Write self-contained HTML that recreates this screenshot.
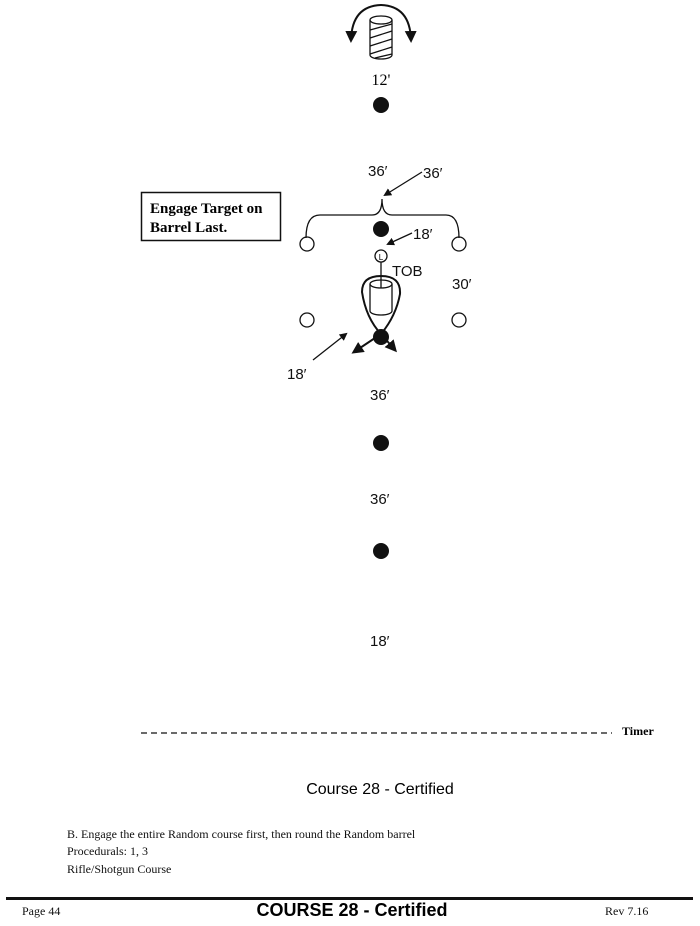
<!DOCTYPE html>
<html><head><style>
body{margin:0;background:#fff;width:700px;height:926px;overflow:hidden}
svg{display:block}
.s{font-family:"Liberation Sans",sans-serif}
.r{font-family:"Liberation Serif",serif}
</style></head><body>
<svg width="700" height="926" viewBox="0 0 700 926" xmlns="http://www.w3.org/2000/svg">
<defs>
<marker id="a" markerWidth="8" markerHeight="8" refX="6" refY="4" orient="auto" markerUnits="userSpaceOnUse"><path d="M0,0 L8,4 L0,8 Z" fill="#111"/></marker>
<marker id="b" markerWidth="12" markerHeight="12" refX="9" refY="6" orient="auto-start-reverse" markerUnits="userSpaceOnUse"><path d="M0,0 L12,6 L0,12 Z" fill="#111"/></marker>
</defs>
<g stroke="#111" stroke-width="1.3" fill="none">
<path d="M370,20 L370,55 A11,4 0 0 0 392,55 L392,20"/>
<ellipse cx="381" cy="20" rx="11" ry="4"/>
<path d="M370,30 L392,24 M370,38 L392,31 M370,46 L392,39 M370,54 L392,47 M375,58 L392,54"/>
<path d="M351,40 Q352,6 381,5 Q410,6 411,40" stroke-width="2" marker-start="url(#b)" marker-end="url(#b)"/>
</g>
<text x="381" y="85" class="r" font-size="16" text-anchor="middle">12'</text>
<circle cx="381" cy="105" r="8" fill="#111"/>
<g class="s" font-size="15" fill="#111">
<text x="368" y="176">36′</text>
<text x="423" y="178">36′</text>
<text x="413" y="239">18′</text>
<text x="392" y="276">TOB</text>
<text x="452" y="289">30′</text>
<text x="287" y="379">18′</text>
<text x="370" y="400">36′</text>
<text x="370" y="504">36′</text>
<text x="370" y="646">18′</text>
</g>
<g stroke="#111" stroke-width="1.3" fill="none">
<line x1="422" y1="172" x2="385" y2="195" marker-end="url(#a)"/>
<path d="M306,238 Q306,215 320,215 L372,215 Q382,215 382,199 Q382,215 392,215 L446,215 Q459,215 459,238"/>
<line x1="412" y1="233" x2="388" y2="244" marker-end="url(#a)"/>
<circle cx="307" cy="244" r="7"/><circle cx="459" cy="244" r="7"/>
<circle cx="307" cy="320" r="7"/><circle cx="459" cy="320" r="7"/>
<circle cx="381" cy="256" r="6"/>
<line x1="381" y1="262" x2="381" y2="288"/>
<path d="M370,284 L370,311 A11,4 0 0 0 392,311 L392,284"/>
<ellipse cx="381" cy="284" rx="11" ry="4"/>
<path d="M354,352 L381,334 Q396,316 400,294 Q401,276 381,276 Q362,276 362,292 Q366,318 381,334 L395,350" stroke-width="2" marker-start="url(#b)" marker-end="url(#b)"/>
<line x1="313" y1="360" x2="346" y2="334" marker-end="url(#a)"/>
</g>
<text x="381" y="260" class="s" font-size="8" text-anchor="middle">L</text>
<circle cx="381" cy="229" r="8" fill="#111"/>
<circle cx="381" cy="337" r="8" fill="#111"/>
<circle cx="381" cy="443" r="8" fill="#111"/>
<circle cx="381" cy="551" r="8" fill="#111"/>
<rect x="141.5" y="192.5" width="139" height="48" fill="#fff" stroke="#111" stroke-width="1.5"/>
<text x="150" y="213" class="r" font-size="15" font-weight="bold">Engage Target on</text>
<text x="150" y="232" class="r" font-size="15" font-weight="bold">Barrel Last.</text>
<line x1="141" y1="733" x2="612" y2="733" stroke="#111" stroke-width="1.3" stroke-dasharray="6,4"/>
<text x="622" y="735" class="r" font-size="12" font-weight="bold">Timer</text>
<text x="380" y="794" class="s" font-size="16" text-anchor="middle">Course 28 - Certified</text>
<g class="r" font-size="12" fill="#111">
<text x="67" y="838">B. Engage the entire Random course first, then round the Random barrel</text>
<text x="67" y="855">Procedurals:  1, 3</text>
<text x="67" y="873">Rifle/Shotgun Course</text>
<text x="22" y="915">Page 44</text>
<text x="605" y="915">Rev 7.16</text>
</g>
<rect x="6" y="897" width="687" height="3" fill="#111"/>
<text x="352" y="916" class="s" font-size="18" font-weight="bold" text-anchor="middle">COURSE 28 - Certified</text>
</svg>
</body></html>
